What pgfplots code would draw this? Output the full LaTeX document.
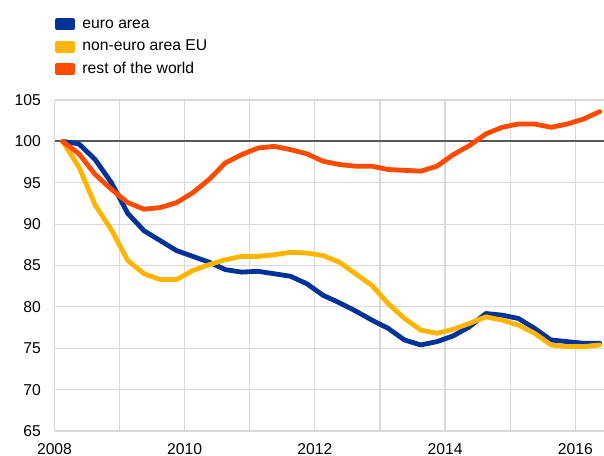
\documentclass[border=0pt]{standalone}
\usepackage{pgfplots}
\usepackage{pgfplotstable}
\pgfplotsset{compat=1.18}
\usepackage{fontspec}
\setmainfont{Liberation Sans}
\definecolor{ecbblue}{RGB}{0,50,153}
\definecolor{ecbyellow}{RGB}{255,180,0}
\definecolor{ecborange}{RGB}{255,75,0}
\definecolor{gridgrey}{RGB}{217,217,217}
\definecolor{refgrey}{RGB}{89,89,89}

\pgfplotstableread{
x        ea     neu    row
2008.125 100.0  100.0  100.0
2008.375 99.7   96.9   98.5
2008.625 97.8   92.3   96.0
2008.875 95.0   89.3   94.2
2009.125 91.3   85.6   92.6
2009.375 89.2   84.0   91.8
2009.625 88.0   83.3   92.0
2009.875 86.8   83.3   92.6
2010.125 86.1   84.4   93.8
2010.375 85.4   85.1   95.4
2010.625 84.5   85.7   97.4
2010.875 84.2   86.1   98.4
2011.125 84.3   86.1   99.2
2011.375 84.0   86.3   99.4
2011.625 83.7   86.6   99.0
2011.875 82.8   86.5   98.5
2012.125 81.4   86.2   97.6
2012.375 80.5   85.4   97.2
2012.625 79.5   84.0   97.0
2012.875 78.4   82.6   97.0
2013.125 77.4   80.4   96.6
2013.375 76.0   78.6   96.5
2013.625 75.4   77.2   96.4
2013.875 75.8   76.8   97.0
2014.125 76.5   77.3   98.4
2014.375 77.6   78.0   99.5
2014.625 79.2   78.8   100.9
2014.875 79.0   78.4   101.7
2015.125 78.6   77.8   102.1
2015.375 77.4   76.8   102.1
2015.625 76.0   75.4   101.7
2015.875 75.8   75.2   102.1
2016.125 75.6   75.2   102.7
2016.375 75.6   75.4   103.6
}\datatable

\begin{document}
\begin{tikzpicture}
\begin{axis}[
  name=ax,
  scale only axis,
  width=549.5bp, height=331bp,
  xmin=2008, xmax=2016.44,
  ymin=65, ymax=105,
  xtick={2008,2009,...,2016},
  xticklabels={2008,,2010,,2012,,2014,,2016},
  ytick={65,70,...,105},
  grid=major,
  major grid style={draw=gridgrey, line width=1.2bp},
  axis line style={draw=none},
  major tick length=0pt,
  font=\fontsize{15.7bp}{18bp}\selectfont,
  tick label style={font=\fontsize{15.7bp}{18bp}\selectfont},
  /pgf/number format/assume math mode=true,
  /pgf/number format/1000 sep={},
  xticklabel style={inner sep=0pt, yshift=-12bp},
  yticklabel style={inner sep=0pt, xshift=-13.5bp},
  legend style={draw=none, fill=none, at={(0,1)}, anchor=north west,
    yshift=84bp, inner sep=0pt, row sep=6.5bp, column sep=7bp,
    nodes={inner sep=0pt, anchor=west, text height=12bp, text depth=4bp},
    font=\fontsize{15.7bp}{18bp}\selectfont},
  legend cell align=left,
  legend image code/.code={\fill[#1] (0bp,-3.5bp) rectangle (16bp,3.5bp);},
]
\addplot[refgrey, line width=2bp, forget plot] coordinates {(2008,100) (2016.44,100)};
\addplot[ecbblue, line width=4.8bp, line join=round, line cap=round] table[x=x,y=ea] {\datatable};
\addlegendentry{euro area}
\addplot[ecbyellow, line width=4.8bp, line join=round, line cap=round] table[x=x,y=neu] {\datatable};
\addlegendentry{non-euro area EU}
\addplot[ecborange, line width=4.8bp, line join=round, line cap=round] table[x=x,y=row] {\datatable};
\addlegendentry{rest of the world}
\end{axis}
\pgfresetboundingbox
\path (ax.south west) ++(-54.5bp,-25bp) rectangle ++(604bp,456bp);
\end{tikzpicture}
\end{document}
